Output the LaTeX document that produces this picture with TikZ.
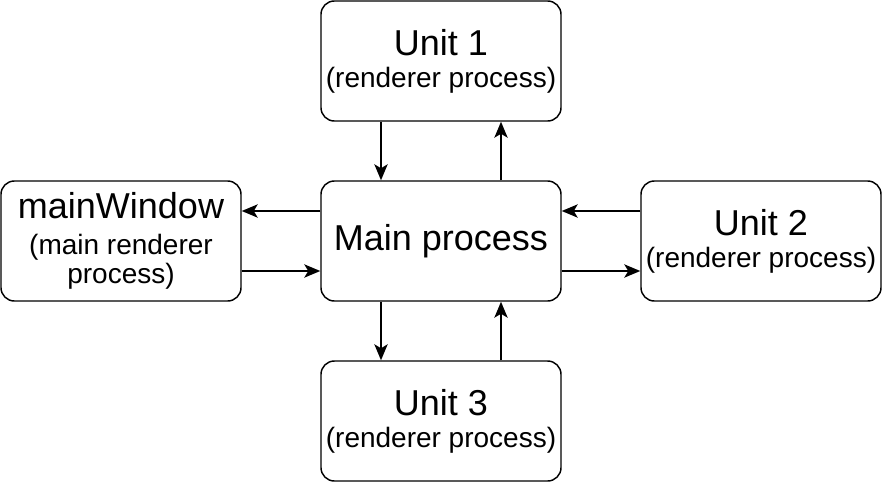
\documentclass[tikz,border=0pt]{standalone}
\usepackage{fontspec}
\setmainfont{Liberation Sans}
\usetikzlibrary{arrows.meta,positioning}

\newcommand{\bigtxt}{\fontsize{27}{30}\selectfont}

\begin{document}
\begin{tikzpicture}[x=0.75pt,y=-0.75pt,
  procbox/.style={draw,line width=1.1pt,rounded corners=10pt,minimum width=180pt,minimum height=90pt,align=center,inner sep=0pt},
  link/.style={-{Stealth[length=12pt,width=10pt,inset=3pt]},line width=1.1pt}]
  \useasboundingbox (0,0) rectangle (882,482);
  % processes
  \node[procbox] (main) at (441,241) {\bigtxt Main process};
  \foreach \pos/\id/\num in {{(441,61)}/u1/1,{(761,241)}/u2/2,{(441,421)}/u3/3}{
    \node[procbox,font=\fontsize{21}{24}\selectfont] (\id) at \pos {{\bigtxt Unit \num}\\(renderer process)};
  }
  \node[procbox,font=\fontsize{21}{21.75}\selectfont] (mw) at (121,241) {{\bigtxt mainWindow}\\[5.75pt](main renderer\\process)};
  % vertical links
  \draw[link] ([xshift=-45pt]u1.south) -- ([xshift=-45pt]main.north);
  \draw[link] ([xshift=45pt]main.north) -- ([xshift=45pt]u1.south);
  \draw[link] ([xshift=-45pt]main.south) -- ([xshift=-45pt]u3.north);
  \draw[link] ([xshift=45pt]u3.north) -- ([xshift=45pt]main.south);
  % horizontal links
  \draw[link] ([yshift=22.5pt]main.west) -- ([yshift=22.5pt]mw.east);
  \draw[link] ([yshift=-22.5pt]mw.east) -- ([yshift=-22.5pt]main.west);
  \draw[link] ([yshift=22.5pt]u2.west) -- ([yshift=22.5pt]main.east);
  \draw[link] ([yshift=-22.5pt]main.east) -- ([yshift=-22.5pt]u2.west);
\end{tikzpicture}
\end{document}
